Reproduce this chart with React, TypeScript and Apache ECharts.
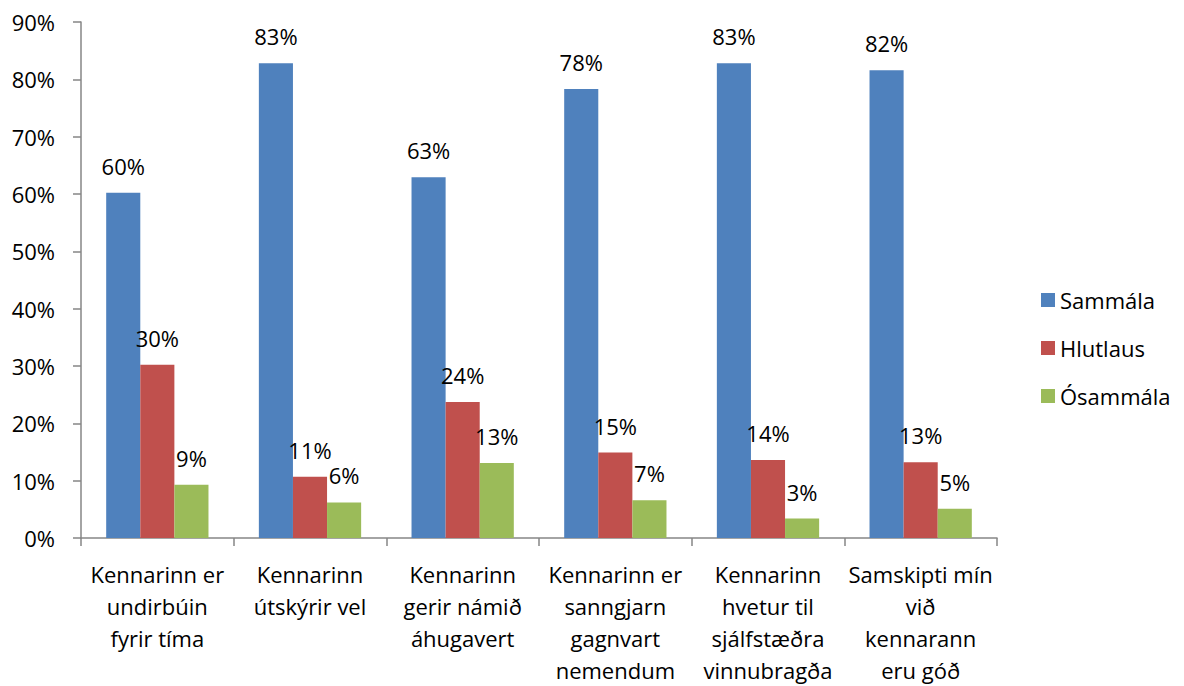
import React, { useEffect, useRef } from "react";
import * as echarts from "echarts";

const categories = [
  "Kennarinn er\nundirbúin\nfyrir tíma",
  "Kennarinn\nútskýrir vel",
  "Kennarinn\ngerir námið\náhugavert",
  "Kennarinn er\nsanngjarn\ngagnvart\nnemendum",
  "Kennarinn\nhvetur til\nsjálfstæðra\nvinnubragða",
  "Samskipti mín\nvið\nkennarann\neru góð",
];
const sammala = [60.2, 82.8, 62.9, 78.3, 82.8, 81.6];
const hlutlaus = [30.2, 10.7, 23.7, 14.9, 13.6, 13.2];
const osammala = [9.3, 6.2, 13.1, 6.6, 3.4, 5.1];
const seriesNames = ["Sammála", "Hlutlaus", "Ósammála"];
const colors = ["#4F81BD", "#C0504D", "#9BBB59"];

const FONT = "'Open Sans', sans-serif";

export default function App() {
  const ref = useRef<HTMLDivElement>(null);
  useEffect(() => {
    document.body.style.margin = "0";
    const chart = echarts.init(ref.current!, null, { renderer: "svg" });
    const mk = (name: string, data: number[], color: string) => ({
      name,
      type: "bar",
      data,
      barGap: "0%",
      barCategoryGap: "33%",
      itemStyle: { color },
      label: {
        show: true,
        position: "top",
        distance: 16,
        color: "#000",
        fontFamily: FONT,
        fontSize: 22,
        formatter: (p: any) => Math.round(p.value) + "%",
      },
    });
    chart.setOption({
      animation: false,
      textStyle: { fontFamily: FONT },
      grid: { left: 81, width: 916, top: 22, height: 517, containLabel: false },
      legend: {
        orient: "vertical",
        left: 1036,
        top: 284,
        itemWidth: 14,
        itemHeight: 14,
        itemGap: 26,
        icon: "rect",
        textStyle: { fontFamily: FONT, fontSize: 22, color: "#000" },
        data: seriesNames,
      },
      xAxis: {
        type: "category",
        data: categories,
        axisLine: { lineStyle: { color: "#868686", width: 1.5 } },
        axisTick: { show: true, length: 8, interval: 0, lineStyle: { color: "#868686", width: 1.5 } },
        axisLabel: {
          interval: 0,
          color: "#000",
          fontFamily: FONT,
          fontSize: 22,
          lineHeight: 32,
          margin: 20,
        },
      },
      yAxis: {
        type: "value",
        min: 0,
        max: 90,
        interval: 10,
        splitLine: { show: false },
        axisLine: { show: true, lineStyle: { color: "#868686", width: 1.5 } },
        axisTick: { show: true, length: 8, lineStyle: { color: "#868686", width: 1.5 } },
        axisLabel: {
          formatter: "{value}%",
          color: "#000",
          fontFamily: FONT,
          fontSize: 22,
          margin: 26,
        },
      },
      series: [
        mk(seriesNames[0], sammala, colors[0]),
        mk(seriesNames[1], hlutlaus, colors[1]),
        mk(seriesNames[2], osammala, colors[2]),
      ],
    });
    return () => chart.dispose();
  }, []);
  return (
    <div
      ref={ref}
      style={{ position: "fixed", left: 0, top: 0, width: 1184, height: 686, background: "#fff" }}
    />
  );
}
